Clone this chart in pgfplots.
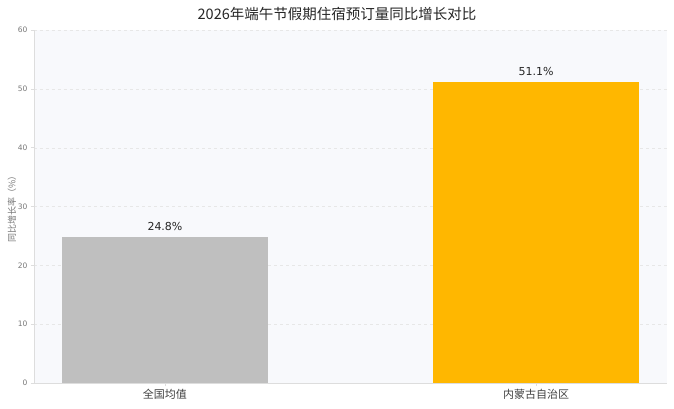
\documentclass[border=0pt]{standalone}
\usepackage{pgfplots}
\pgfplotsset{compat=1.18}
\usepackage{fontspec}
\setmainfont{DejaVu Sans}
\newfontfamily\cjk{Noto Sans CJK SC}
\definecolor{bgc}{HTML}{F8F9FC}
\definecolor{grayb}{HTML}{BFBFBF}
\definecolor{orangeb}{HTML}{FFB700}
\definecolor{spine}{HTML}{DDDDDD}
\definecolor{tickc}{HTML}{777777}
\begin{document}
\begin{tikzpicture}
\begin{axis}[
    scale only axis,
    width=633pt, height=353pt,
    xmin=-0.353, xmax=1.353,
    ymin=0, ymax=60,
    ytick={0,10,20,30,40,50,60},
    xtick={0,1},
    xticklabels={{\cjk 全国均值},{\cjk 内蒙古自治区}},
    axis background/.style={fill=bgc},
    axis x line*=bottom, axis y line*=left,
    axis line style={spine},
    tick style={spine, thin},
    major tick length=3pt,
    tick align=outside,
    ymajorgrids=true,
    grid style={dashed, spine!70, line width=0.3pt},
    yticklabel style={font=\fontsize{7.5}{9}\selectfont, text=tickc},
    xticklabel style={font=\fontsize{11}{13}\selectfont, text=black!75},
    /pgf/number format/assume math mode=true,
    ybar, bar width=206pt, bar shift=0pt,
    nodes near coords={\pgfmathprintnumber[fixed,precision=1,fixed zerofill]{\pgfplotspointmeta}\%},
    nodes near coords style={font=\fontsize{11}{13}\selectfont, text=black!85, yshift=3pt},
]
\addplot[fill=grayb, draw=none] coordinates {(0,24.8)};
\addplot[fill=orangeb, draw=none] coordinates {(1,51.1)};
\end{axis}
\node[font=\cjk\fontsize{14.5}{17}\selectfont, text=black!85] at (303pt,369pt) {2026年端午节假期住宿预订量同比增长对比};
\node[font=\cjk\fontsize{9}{11}\selectfont, text=tickc, rotate=90] at (-22pt,176pt) {同比增长率（\%）};
\useasboundingbox (-34pt,-25pt) rectangle (640pt,383pt);
\end{tikzpicture}
\end{document}
